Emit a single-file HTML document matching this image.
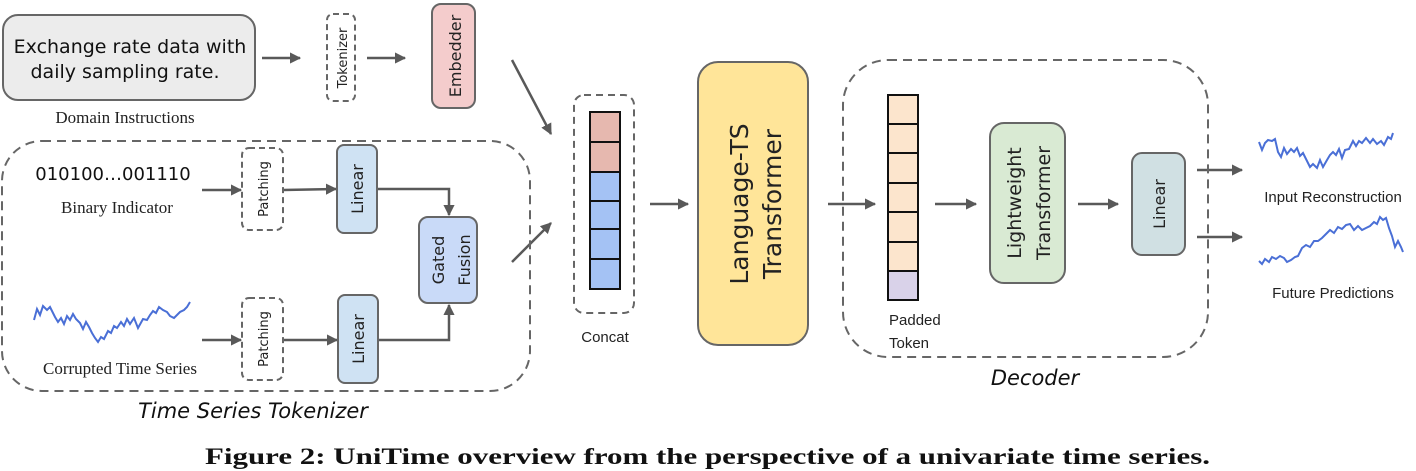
<!DOCTYPE html>
<html><head><meta charset="utf-8"><style>
html,body{margin:0;padding:0;background:#fff;}
svg{display:block;}
</style></head><body>
<svg width="1416" height="471" viewBox="0 0 1416 471" xmlns="http://www.w3.org/2000/svg">
<defs>
<marker id="ah" viewBox="0 0 10 10" refX="9" refY="5" markerWidth="4.5" markerHeight="4.5" orient="auto"><path d="M0,0 L10,5 L0,10 z" fill="#595959"/></marker>
</defs>
<g font-family="'DejaVu Sans','Liberation Sans',sans-serif">
<rect x="3" y="15" width="252" height="85" rx="15" fill="#ececec" stroke="#666" stroke-width="2"/>
<text x="130" y="53" font-size="19" text-anchor="middle" fill="#111">Exchange rate data with</text>
<text x="125" y="78" font-size="19" text-anchor="middle" fill="#111">daily sampling rate.</text>
<text x="125" y="123" font-size="17" text-anchor="middle" font-family="'Liberation Serif',serif" fill="#222">Domain Instructions</text>
<g stroke="#595959" stroke-width="2.5" fill="none">
<line x1="262" y1="58" x2="300" y2="58" marker-end="url(#ah)"/>
<line x1="367" y1="58" x2="405" y2="58" marker-end="url(#ah)"/>
<line x1="512" y1="60" x2="551" y2="134" marker-end="url(#ah)"/>
<line x1="512" y1="262" x2="551" y2="223" marker-end="url(#ah)"/>
<line x1="202" y1="190" x2="241" y2="190" marker-end="url(#ah)"/>
<line x1="202" y1="340" x2="241" y2="340" marker-end="url(#ah)"/>
<line x1="283" y1="190" x2="336" y2="189" marker-end="url(#ah)"/>
<line x1="283" y1="340" x2="337" y2="340" marker-end="url(#ah)"/>
<polyline points="377,189 449,189 449,215" marker-end="url(#ah)"/>
<polyline points="378,340 449,340 449,305" marker-end="url(#ah)"/>
<line x1="650" y1="204" x2="688" y2="204" marker-end="url(#ah)"/>
<line x1="828" y1="204" x2="875" y2="204" marker-end="url(#ah)"/>
<line x1="935" y1="204" x2="976" y2="204" marker-end="url(#ah)"/>
<line x1="1078" y1="204" x2="1118" y2="204" marker-end="url(#ah)"/>
<line x1="1197" y1="170" x2="1242" y2="170" marker-end="url(#ah)"/>
<line x1="1197" y1="237" x2="1242" y2="237" marker-end="url(#ah)"/>
</g>
<rect x="327" y="14" width="28" height="87" rx="6" fill="none" stroke="#666" stroke-width="2" stroke-dasharray="6,4"/>
<text transform="translate(347,58) rotate(-90)" font-size="13" text-anchor="middle" fill="#222">Tokenizer</text>
<rect x="432" y="4" width="43" height="104" rx="9" fill="#f4cccc" stroke="#666" stroke-width="2"/>
<text transform="translate(461,56) rotate(-90)" font-size="16" text-anchor="middle" fill="#222">Embedder</text>
<rect x="2" y="141" width="528" height="250" rx="40" fill="none" stroke="#666" stroke-width="2" stroke-dasharray="9,6"/>
<text x="253" y="418" font-size="21" font-style="italic" text-anchor="middle" fill="#111">Time Series Tokenizer</text>
<text x="113" y="180" font-size="18" text-anchor="middle" fill="#111">010100…001110</text>
<text x="117" y="213" font-size="17" text-anchor="middle" font-family="'Liberation Serif',serif" fill="#222">Binary Indicator</text>
<text x="120" y="374" font-size="17" text-anchor="middle" font-family="'Liberation Serif',serif" fill="#222">Corrupted Time Series</text>
<rect x="242" y="148" width="41" height="82" rx="7" fill="none" stroke="#666" stroke-width="2" stroke-dasharray="6,4"/>
<text transform="translate(268,189) rotate(-90)" font-size="13" text-anchor="middle" fill="#222">Patching</text>
<rect x="242" y="298" width="41" height="82" rx="7" fill="none" stroke="#666" stroke-width="2" stroke-dasharray="6,4"/>
<text transform="translate(268,339) rotate(-90)" font-size="13" text-anchor="middle" fill="#222">Patching</text>
<rect x="337" y="145" width="40" height="88" rx="7" fill="#cfe2f3" stroke="#666" stroke-width="2"/>
<text transform="translate(363,189) rotate(-90)" font-size="16" text-anchor="middle" fill="#222">Linear</text>
<rect x="338" y="295" width="40" height="88" rx="7" fill="#cfe2f3" stroke="#666" stroke-width="2"/>
<text transform="translate(364,339) rotate(-90)" font-size="16" text-anchor="middle" fill="#222">Linear</text>
<rect x="419" y="217" width="58" height="86" rx="9" fill="#c9daf8" stroke="#666" stroke-width="2"/>
<text transform="translate(444,260) rotate(-90)" font-size="16" text-anchor="middle" fill="#222">Gated</text>
<text transform="translate(470,260) rotate(-90)" font-size="16" text-anchor="middle" fill="#222">Fusion</text>
<polyline fill="none" stroke="#4a6fd6" stroke-width="2" points="34,320 37,309 40,315 43,306 47,310 50,307 55,317 58,322 61,318 64,324 67,316 70,320 73,314 76,319 80,323 83,329 86,322 89,327 92,333 95,338 98,342 101,337 104,339 108,331 111,333 114,326 117,328 121,322 124,326 127,319 130,324 134,318 138,328 143,319 147,320 150,315 153,311 156,313 159,307 163,310 167,312 170,316 174,318 180,312 184,310 187,307 190,302"/>
<rect x="574" y="95" width="60" height="218" rx="10" fill="none" stroke="#666" stroke-width="2" stroke-dasharray="7,5"/>
<g stroke="#111" stroke-width="2">
<rect x="590" y="112" width="30" height="30" fill="#e6b8af"/>
<rect x="590" y="142" width="30" height="30" fill="#e6b8af"/>
<rect x="590" y="172" width="30" height="29" fill="#a4c2f4"/>
<rect x="590" y="201" width="30" height="28" fill="#a4c2f4"/>
<rect x="590" y="229" width="30" height="30" fill="#a4c2f4"/>
<rect x="590" y="259" width="30" height="30" fill="#a4c2f4"/>
</g>
<text x="605" y="342" font-size="15" text-anchor="middle" font-family="'Liberation Sans',sans-serif" fill="#222">Concat</text>
<rect x="698" y="62" width="110" height="283" rx="20" fill="#ffe599" stroke="#666" stroke-width="2"/>
<text transform="translate(748,204) rotate(-90)" font-size="25" text-anchor="middle" fill="#222">Language-TS</text>
<text transform="translate(781,204) rotate(-90)" font-size="25" text-anchor="middle" fill="#222">Transformer</text>
<rect x="843" y="60" width="365" height="297" rx="45" fill="none" stroke="#666" stroke-width="2" stroke-dasharray="9,6"/>
<text x="1035" y="385" font-size="21" font-style="italic" text-anchor="middle" fill="#111">Decoder</text>
<g stroke="#111" stroke-width="2">
<rect x="888" y="95" width="30" height="29" fill="#fce5cd"/>
<rect x="888" y="124" width="30" height="29" fill="#fce5cd"/>
<rect x="888" y="153" width="30" height="30" fill="#fce5cd"/>
<rect x="888" y="183" width="30" height="29" fill="#fce5cd"/>
<rect x="888" y="212" width="30" height="30" fill="#fce5cd"/>
<rect x="888" y="242" width="30" height="29" fill="#fce5cd"/>
<rect x="888" y="271" width="30" height="29" fill="#d9d2e9"/>
</g>
<text x="889" y="325" font-size="15" font-family="'Liberation Sans',sans-serif" fill="#222">Padded</text>
<text x="889" y="348" font-size="15" font-family="'Liberation Sans',sans-serif" fill="#222">Token</text>
<rect x="990" y="123" width="75" height="160" rx="14" fill="#d9ead3" stroke="#666" stroke-width="2"/>
<text transform="translate(1021,203) rotate(-90)" font-size="19" text-anchor="middle" fill="#222">Lightweight</text>
<text transform="translate(1050,203) rotate(-90)" font-size="19" text-anchor="middle" fill="#222">Transformer</text>
<rect x="1132" y="153" width="53" height="102" rx="10" fill="#d0e0e3" stroke="#666" stroke-width="2"/>
<text transform="translate(1165,204) rotate(-90)" font-size="16" text-anchor="middle" fill="#222">Linear</text>
<polyline fill="none" stroke="#4a6fd6" stroke-width="2" points="1259,142 1262,150 1265,143 1268,140 1272,141 1275,139 1278,152 1281,157 1284,148 1287,154 1291,149 1294,152 1297,148 1300,156 1303,153 1307,161 1310,167 1313,164 1317,168 1320,160 1323,167 1327,160 1330,155 1333,152 1336,155 1339,149 1342,158 1345,150 1349,149 1353,141 1356,146 1359,141 1362,143 1366,138 1370,143 1373,139 1377,144 1381,141 1384,145 1388,137 1391,139 1393,133"/>
<polyline fill="none" stroke="#4a6fd6" stroke-width="2" points="1259,261 1262,264 1265,259 1269,262 1272,257 1276,259 1280,256 1284,258 1287,262 1291,260 1295,257 1298,256 1302,248 1306,245 1310,247 1314,241 1318,241 1322,238 1326,234 1330,230 1334,233 1338,227 1342,229 1346,225 1350,224 1354,230 1358,226 1362,230 1366,228 1370,226 1374,222 1377,224 1380,217 1383,220 1386,218 1389,228 1392,236 1395,247 1398,241 1401,247 1403,252"/>
<text x="1333" y="202" font-size="15" text-anchor="middle" font-family="'Liberation Sans',sans-serif" fill="#222">Input Reconstruction</text>
<text x="1333" y="298" font-size="15" text-anchor="middle" font-family="'Liberation Sans',sans-serif" fill="#222">Future Predictions</text>
</g>
<text x="205" y="464" font-size="23" font-weight="bold" textLength="1005" lengthAdjust="spacingAndGlyphs" font-family="'Liberation Serif',serif" fill="#111">Figure 2: UniTime overview from the perspective of a univariate time series.</text>
</svg>
</body></html>
